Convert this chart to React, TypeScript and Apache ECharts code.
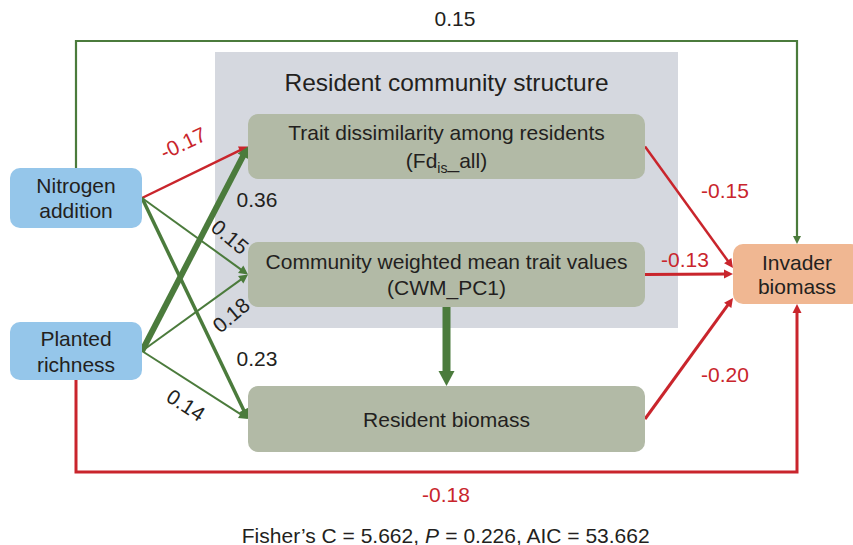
import React, { useEffect, useRef } from "react";
import * as echarts from "echarts";

// ---------- data ----------
const nodeIds = ["N", "P", "FD", "CWM", "RB", "INV"];
const nodeLabels = [
  "Nitrogen\naddition",
  "Planted\nrichness",
  "Trait dissimilarity among residents\n(Fd{sub|is}_all)",
  "Community weighted mean trait values\n(CWM_PC1)",
  "Resident biomass",
  "Invader\nbiomass",
];
const panelTitle = "Resident community structure";
const edgeFrom = ["N", "N", "N", "P", "P", "P", "FD", "CWM", "RB", "CWM", "N", "P"];
const edgeTo = ["FD", "CWM", "RB", "FD", "CWM", "RB", "INV", "INV", "INV", "RB", "INV", "INV"];
const edgeCoef: (number | null)[] = [-0.17, 0.15, 0.23, 0.36, 0.18, 0.14, -0.15, -0.13, -0.2, null, 0.15, -0.18];
const fitText = "Fisher\u2019s C = 5.662, {it|P} = 0.226, AIC = 53.662";

// ---------- layout & style ----------
const W = 853;
const H = 545;
const FONT = "'Liberation Sans', Arial, Helvetica, sans-serif";
const GREEN = "#4b7b3c";
const RED = "#c9252c";
const INK = "#231f20";

const nodeBox: Record<string, number[]> = {
  N: [10, 168, 132, 60],
  P: [10, 322, 132, 58],
  FD: [248, 114, 397, 65],
  CWM: [248, 242, 397, 65],
  RB: [248, 386, 397, 66],
  INV: [733, 244, 128, 60],
};
const nodeFill: Record<string, string> = {
  N: "#95c6ea",
  P: "#95c6ea",
  FD: "#b2baa6",
  CWM: "#b2baa6",
  RB: "#b2baa6",
  INV: "#f0b792",
};
const nodeLineHeight: Record<string, number> = { N: 25, P: 26, FD: 28, CWM: 26, RB: 25, INV: 24 };
const panelBox = [215, 52, 463, 276];
const panelTitleY = 82;

// route: s = straight (source side, target side, target fraction), t = over top, b = under bottom
const edgeRoute = ["s", "s", "s", "s", "s", "s", "s", "s", "s", "v", "t", "b"];
const edgeDstFrac = [0.5, 0.5, 0.5, 0.5, 0.5, 0.5, 0.4, 0.5, 0.9, 0.5, 0.5, 0.5];
const routeTopY = 41;
const routeBottomY = 472;
const edgeWidth = [2.5, 2, 3.5, 6, 2, 2, 2.5, 3, 3, 8, 2.2, 3];
const edgeArrow = [
  [9, 4.5], [9, 4.5], [10, 5], [11, 6], [9, 4.5], [9, 4.5],
  [9, 4.5], [9, 4.5], [9, 4.5], [15, 8], [8, 4], [9, 4.5],
];
// label center x, y, rotation (deg, ccw)
const labelPos = [
  [183, 143, 25], [230, 237, -40], [257, 358, 0], [257, 199, 0], [231, 315, 40], [186, 405, -33],
  [725, 190, 0], [685, 259, 0], [725, 374, 0], [0, 0, 0], [455, 18, 0], [446, 494, 0],
];
const fitPos = [446, 535];

function edgePoints(i: number): number[][] {
  const s = nodeBox[edgeFrom[i]];
  const t = nodeBox[edgeTo[i]];
  const r = edgeRoute[i];
  if (r === "t") {
    const sx = s[0] + s[2] / 2;
    const tx = t[0] + t[2] / 2;
    return [[sx, s[1]], [sx, routeTopY], [tx, routeTopY], [tx, t[1]]];
  }
  if (r === "b") {
    const sx = s[0] + s[2] / 2;
    const tx = t[0] + t[2] / 2;
    return [[sx, s[1] + s[3]], [sx, routeBottomY], [tx, routeBottomY], [tx, t[1] + t[3]]];
  }
  if (r === "v") {
    const x = s[0] + s[2] / 2;
    return [[x, s[1] + s[3]], [x, t[1]]];
  }
  return [
    [s[0] + s[2], s[1] + s[3] / 2],
    [t[0], t[1] + t[3] * edgeDstFrac[i]],
  ];
}

export default function App() {
  const ref = useRef<HTMLDivElement>(null);
  useEffect(() => {
    if (!ref.current) return;
    const chart = echarts.init(ref.current, undefined, { renderer: "svg" });
    const idx = nodeIds.map((_, i) => [i, 0]);
    const eidx = edgeFrom.map((_, i) => [i, 0]);

    chart.setOption({
      animation: false,
      backgroundColor: "#ffffff",
      grid: { left: 0, right: 0, top: 0, bottom: 0 },
      xAxis: { type: "value", min: 0, max: W, show: false },
      yAxis: { type: "value", min: 0, max: H, inverse: true, show: false },
      series: [
        {
          type: "custom",
          name: "panel",
          z: 1,
          clip: false,
          data: [[0, 0]],
          renderItem: (_p: any, api: any) => {
            const a = api.coord([panelBox[0], panelBox[1]]);
            const b = api.coord([panelBox[0] + panelBox[2], panelBox[1] + panelBox[3]]);
            const c = api.coord([panelBox[0] + panelBox[2] / 2, panelTitleY]);
            return {
              type: "group",
              children: [
                { type: "rect", shape: { x: a[0], y: a[1], width: b[0] - a[0], height: b[1] - a[1] }, style: { fill: "#d5d8df" } },
                {
                  type: "text",
                  x: c[0],
                  y: c[1],
                  style: { text: panelTitle, align: "center", verticalAlign: "middle", fontSize: 24.5, fontFamily: FONT, fill: INK },
                },
              ],
            };
          },
        },
        {
          type: "custom",
          name: "paths",
          z: 2,
          clip: false,
          data: eidx,
          renderItem: (params: any, api: any) => {
            const i = params.dataIndex;
            const pts = edgePoints(i).map((p) => api.coord(p));
            const coef = edgeCoef[i];
            const color = coef !== null && coef < 0 ? RED : GREEN;
            const n = pts.length;
            const tip = pts[n - 1];
            const prev = pts[n - 2];
            const dx = tip[0] - prev[0];
            const dy = tip[1] - prev[1];
            const len = Math.sqrt(dx * dx + dy * dy);
            const ux = dx / len;
            const uy = dy / len;
            const [al, hw] = edgeArrow[i];
            const base = [tip[0] - ux * al, tip[1] - uy * al];
            const line = pts.slice(0, n - 1).concat([[base[0] + ux * 1, base[1] + uy * 1]]);
            return {
              type: "group",
              children: [
                { type: "polyline", shape: { points: line }, style: { stroke: color, lineWidth: edgeWidth[i], fill: "none", lineJoin: "miter" } },
                {
                  type: "polygon",
                  shape: {
                    points: [
                      tip,
                      [base[0] - uy * hw, base[1] + ux * hw],
                      [base[0] + uy * hw, base[1] - ux * hw],
                    ],
                  },
                  style: { fill: color },
                },
              ],
            };
          },
        },
        {
          type: "custom",
          name: "nodes",
          z: 3,
          clip: false,
          data: idx,
          renderItem: (params: any, api: any) => {
            const id = nodeIds[params.dataIndex];
            const b = nodeBox[id];
            const a = api.coord([b[0], b[1]]);
            const c = api.coord([b[0] + b[2], b[1] + b[3]]);
            const lh = nodeLineHeight[id];
            return {
              type: "group",
              children: [
                { type: "rect", shape: { x: a[0], y: a[1], width: c[0] - a[0], height: c[1] - a[1], r: 10 }, style: { fill: nodeFill[id] } },
                {
                  type: "text",
                  x: (a[0] + c[0]) / 2,
                  y: (a[1] + c[1]) / 2,
                  style: {
                    text: nodeLabels[params.dataIndex],
                    align: "center",
                    verticalAlign: "middle",
                    fontSize: 21,
                    fontFamily: FONT,
                    fill: INK,
                    lineHeight: lh,
                    rich: {
                      sub: { fontSize: 14, fontFamily: FONT, fill: INK, lineHeight: 14, verticalAlign: "bottom" },
                    },
                  },
                },
              ],
            };
          },
        },
        {
          type: "custom",
          name: "coefficients",
          z: 4,
          clip: false,
          data: eidx,
          renderItem: (params: any, api: any) => {
            const i = params.dataIndex;
            const coef = edgeCoef[i];
            if (coef === null) return { type: "group", children: [] };
            const [x, y, rot] = labelPos[i];
            const p = api.coord([x, y]);
            return {
              type: "text",
              x: p[0],
              y: p[1],
              rotation: (rot * Math.PI) / 180,
              style: {
                text: coef.toFixed(2),
                align: "center",
                verticalAlign: "middle",
                fontSize: 21,
                fontFamily: FONT,
                fill: coef < 0 ? RED : INK,
              },
            };
          },
        },
      ],
      graphic: [
        {
          type: "text",
          x: fitPos[0],
          y: fitPos[1],
          z: 10,
          style: {
            text: fitText,
            align: "center",
            verticalAlign: "middle",
            fontSize: 21,
            fontFamily: FONT,
            fill: INK,
            rich: { it: { fontSize: 21, fontFamily: FONT, fontStyle: "italic", fill: INK } },
          },
        },
      ],
    });
    return () => chart.dispose();
  }, []);
  return <div ref={ref} style={{ position: "absolute", left: 0, top: 0, width: W, height: H }} />;
}
